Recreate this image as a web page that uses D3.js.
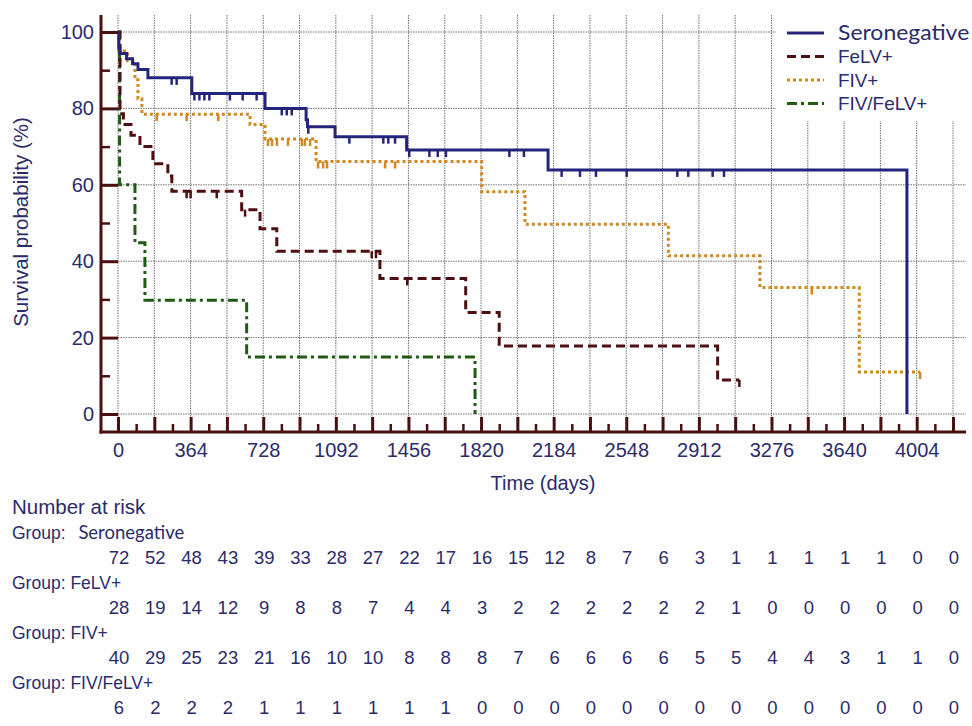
<!DOCTYPE html>
<html><head><meta charset="utf-8">
<script src="https://cdn.jsdelivr.net/npm/d3@7"></script>
<style>
body{margin:0;background:#fff}
svg{display:block}
text{font-family:"Liberation Sans",Arial,sans-serif;fill:#2b2b6b}
</style>
</head><body>
<svg id="c" width="972" height="726"></svg>
<script>
// ---------------- data ----------------
const groups = ["Seronegative", "FeLV+", "FIV+", "FIV/FeLV+"];

// Kaplan-Meier steps: [time (days), survival (%)] after each drop
const seronegativeSteps = [[0,100],[4,95.8],[10,94.4],[43,93.0],[73,91.7],[100,90.2],[150,88.0],[370,83.9],[737,80.0],[943,77.0],[950,75.2],[1088,72.6],[1447,69.1],[2156,63.9],[3955,0]];
const seronegativeEnd = 3955;
const seronegativeCensored = [269,294,383,408,433,458,561,625,695,821,846,871,954,1160,1330,1355,1389,1460,1561,1603,1644,1962,2035,2224,2316,2396,2550,2804,2859,2981,3038];

const felvSteps = [[0,100],[10,78.6],[27,75.8],[65,73.0],[110,70.0],[175,65.5],[250,62.3],[270,58.3],[620,53.5],[712,48.5],[796,42.6],[1313,35.5],[1743,26.6],[1911,17.8],[3006,8.9]];
const felvEnd = 3115;
const felvCensored = [344,364,495,637,1272,1293,1450,3115];

const fivSteps = [[0,100],[3,97.5],[6,95.0],[48,92.5],[85,87.5],[100,82.5],[120,78.5],[662,75.8],[737,72.0],[993,66.1],[1823,58.2],[2040,49.7],[2759,41.4],[3218,33.1],[3716,11.0]];
const fivEnd = 4021;
const fivCensored = [194,344,503,752,772,797,852,922,937,963,1003,1028,1048,1339,1389,3478,4021];

const fivFelvSteps = [[0,100],[8,60.0],[85,44.8],[135,29.8],[645,14.9],[1790,0]];
const fivFelvEnd = 1790;
const fivFelvCensored = [];

// axes
const xLabelTicks = [0,364,728,1092,1456,1820,2184,2548,2912,3276,3640,4004];
const xGridTicks = [0,182,364,546,728,910,1092,1274,1456,1638,1820,2002,2184,2366,2548,2730,2912,3094,3276,3458,3640,3822,4004,4186];
const xMinorTicks = [91,273,455,637,819,1001,1183,1365,1547,1729,1911,2093,2275,2457,2639,2821,3003,3185,3367,3549,3731,3913,4095];
const yMajorTicks = [0,20,40,60,80,100];
const yMinorTicks = [10,30,50,70,90];

// number at risk (at xGridTicks)
const atRiskSeronegative = [72,52,48,43,39,33,28,27,22,17,16,15,12,8,7,6,3,1,1,1,1,1,0,0];
const atRiskFelv = [28,19,14,12,9,8,8,7,4,4,3,2,2,2,2,2,2,1,0,0,0,0,0,0];
const atRiskFiv = [40,29,25,23,21,16,10,10,8,8,8,7,6,6,6,6,5,5,4,4,3,1,1,0];
const atRiskFivFelv = [6,2,2,2,1,1,1,1,1,1,0,0,0,0,0,0,0,0,0,0,0,0,0,0];

// ---------------- drawing ----------------
const svg = d3.select("#c");
const AX = "#4a1010", TXT = "#2b2b6b", GRID = "#707070";
const x = d3.scaleLinear().domain([0, 4004]).range([118, 916.7]);
const y = d3.scaleLinear().domain([0, 100]).range([414, 32]);

const series = [
  {name: groups[0], steps: seronegativeSteps, end: seronegativeEnd, cens: seronegativeCensored, color: "#24247c", dash: null, risk: atRiskSeronegative},
  {name: groups[1], steps: felvSteps, end: felvEnd, cens: felvCensored, color: "#4d0f0f", dash: "9,5", risk: atRiskFelv},
  {name: groups[2], steps: fivSteps, end: fivEnd, cens: fivCensored, color: "#d3871f", dash: "3,3", risk: atRiskFiv},
  {name: groups[3], steps: fivFelvSteps, end: fivFelvEnd, cens: fivFelvCensored, color: "#1f5c12", dash: "10,4,3,4", risk: atRiskFivFelv}
];

// grid
const grid = svg.append("g");
grid.selectAll(".vg").data(xGridTicks).join("line")
  .attr("x1", d => x(d)).attr("x2", d => x(d)).attr("y1", 15).attr("y2", 432)
  .attr("stroke", GRID).attr("stroke-width", 1).attr("stroke-dasharray", "1.5,1");
grid.selectAll(".hg").data(yMajorTicks).join("line")
  .attr("x1", x(0)).attr("x2", 966).attr("y1", d => y(d)).attr("y2", d => y(d))
  .attr("stroke", GRID).attr("stroke-width", 1).attr("stroke-dasharray", "1.5,1");

// legend background (covers grid)
svg.append("rect").attr("x", 776).attr("y", 0).attr("width", 196).attr("height", 121).attr("fill", "#fff");

// curves
const line = d3.line().x(d => x(d[0])).y(d => y(d[1])).curve(d3.curveStepAfter);
function survAt(steps, t) {
  let s = steps[0][1];
  for (const st of steps) { if (st[0] <= t) s = st[1]; }
  return s;
}
const curves = svg.append("g");
series.slice().reverse().forEach(s => {
  const pts = s.steps.concat([[s.end, s.steps[s.steps.length - 1][1]]]);
  curves.append("path").attr("d", line(pts)).attr("fill", "none")
    .attr("stroke", s.color).attr("stroke-width", 3)
    .attr("stroke-dasharray", s.dash);
  curves.selectAll(null).data(s.cens).join("line")
    .attr("x1", d => x(d)).attr("x2", d => x(d))
    .attr("y1", d => y(survAt(s.steps, d))).attr("y2", d => y(survAt(s.steps, d)) + 7)
    .attr("stroke", s.color).attr("stroke-width", 2.5);
});

// axes lines
svg.append("line").attr("x1", 101).attr("x2", 101).attr("y1", 15).attr("y2", 433.5).attr("stroke", AX).attr("stroke-width", 3);
svg.append("line").attr("x1", 99.5).attr("x2", 966).attr("y1", 432).attr("y2", 432).attr("stroke", AX).attr("stroke-width", 3);

function styleAxis(g, w) {
  g.select(".domain").remove();
  g.selectAll(".tick line").attr("stroke", AX).attr("stroke-width", w);
  g.selectAll(".tick text").attr("fill", TXT).style("font-size", "20px").style("font-family", '"Liberation Sans", Arial, sans-serif');
}
// y axis
svg.append("g").attr("transform", "translate(118,0)")
  .call(d3.axisLeft(y).tickValues(yMajorTicks).tickSize(17).tickPadding(7))
  .call(g => styleAxis(g, 3));
svg.append("g").attr("transform", "translate(110,0)")
  .call(d3.axisLeft(y).tickValues(yMinorTicks).tickSize(9).tickFormat(""))
  .call(g => styleAxis(g, 2.5));
// x axis
svg.append("g").attr("transform", "translate(0,432)")
  .call(d3.axisTop(x).tickValues(xGridTicks).tickSize(15).tickFormat(""))
  .call(g => styleAxis(g, 3));
svg.append("g").attr("transform", "translate(0,432)")
  .call(d3.axisTop(x).tickValues(xMinorTicks).tickSize(8).tickFormat(""))
  .call(g => styleAxis(g, 2.5));
svg.append("g").attr("transform", "translate(0,432)")
  .call(d3.axisBottom(x).tickValues(xLabelTicks).tickSize(0).tickPadding(11).tickFormat(d3.format("d")))
  .call(g => styleAxis(g, 0));

// axis titles
svg.append("text").attr("x", 543).attr("y", 490).attr("text-anchor", "middle")
  .style("font-size", "20px").text("Time (days)");
svg.append("text").attr("transform", "translate(28,222) rotate(-90)").attr("text-anchor", "middle")
  .style("font-size", "20.5px").text("Survival probability (%)");

// legend
const leg = svg.append("g");
series.forEach((s, i) => {
  const ly = 33 + i * 23.5;
  leg.append("line").attr("x1", 787).attr("x2", 824).attr("y1", ly).attr("y2", ly)
    .attr("stroke", s.color).attr("stroke-width", 3).attr("stroke-dasharray", s.dash);
  leg.append("text").attr("transform", `translate(838,${ly + 6.5}) scale(${i === 0 ? 1.12 : 1.05},1)`)
    .style("font-size", i === 0 ? "20.5px" : "18px")
    .style("font-family", i === 0 ? "Lato, sans-serif" : '"Liberation Sans", Arial, sans-serif')
    .text(s.name);
});

// number at risk table
const tbl = svg.append("g");
tbl.append("text").attr("x", 12).attr("y", 514).style("font-size", "20.5px").text("Number at risk");
series.forEach((s, i) => {
  const gy = 539 + i * 50;
  const t = tbl.append("text").attr("x", 12).attr("y", gy).style("font-size", "17.5px");
  t.append("tspan").text("Group: ");
  t.append("tspan").text(s.name)
    .attr("dx", i === 0 ? 8 : 0)
    .style("font-family", i === 0 ? "Lato, sans-serif" : null)
    .style("font-size", i === 0 ? "18.5px" : null);
  tbl.selectAll(null).data(s.risk).join("text")
    .attr("x", (d, j) => x(xGridTicks[j]) + 1).attr("y", gy + 25)
    .attr("text-anchor", "middle").style("font-size", "18.5px")
    .text(d => d);
});
</script>
</body></html>
